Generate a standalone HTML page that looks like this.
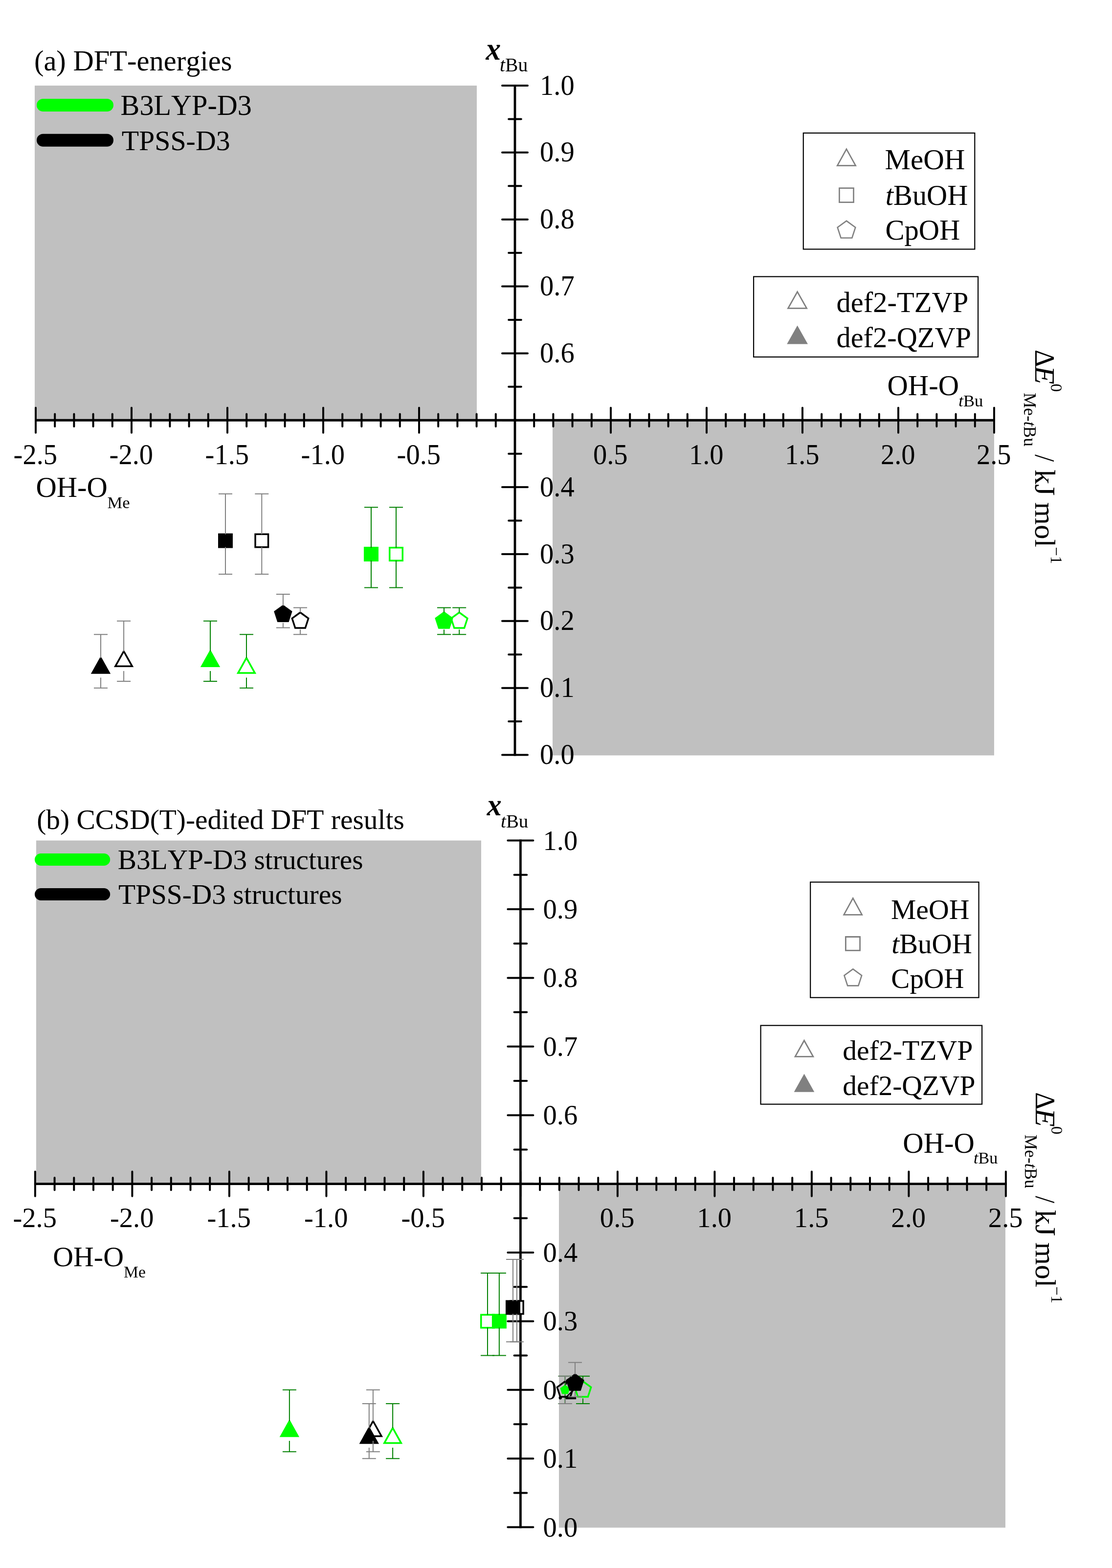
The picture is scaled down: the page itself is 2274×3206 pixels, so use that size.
<!DOCTYPE html><html><head><meta charset="utf-8"><title>x_tBu vs Delta E plot</title>
<style>html,body{margin:0;padding:0;background:#fff;overflow:hidden}svg{display:block}text{font-family:'Liberation Serif', 'Times New Roman', serif;font-kerning:none;fill:#000}</style></head><body>
<svg width="2274" height="3206" viewBox="0 0 2274 3206">
<rect width="2274" height="3206" fill="#fff"/>
<rect x="71" y="175" width="904" height="684.2" fill="#C0C0C0"/>
<rect x="1130" y="859.2" width="903" height="685.3" fill="#C0C0C0"/>
<g stroke="#000" stroke-linecap="butt" fill="none">
<path d="M71 859.25H2035" stroke-width="4.8"/>
<path d="M1053 173V1545.5" stroke-width="4.8"/>
<path d="M73 833.85V884.65M112.2 846.55V871.95M151.4 846.55V871.95M190.6 846.55V871.95M229.8 846.55V871.95M269 833.85V884.65M308.2 846.55V871.95M347.4 846.55V871.95M386.6 846.55V871.95M425.8 846.55V871.95M465 833.85V884.65M504.2 846.55V871.95M543.4 846.55V871.95M582.6 846.55V871.95M621.8 846.55V871.95M661 833.85V884.65M700.2 846.55V871.95M739.4 846.55V871.95M778.6 846.55V871.95M817.8 846.55V871.95M857 833.85V884.65M896.2 846.55V871.95M935.4 846.55V871.95M974.6 846.55V871.95M1013.8 846.55V871.95M1053 833.85V884.65M1092.2 846.55V871.95M1131.4 846.55V871.95M1170.6 846.55V871.95M1209.8 846.55V871.95M1249 833.85V884.65M1288.2 846.55V871.95M1327.4 846.55V871.95M1366.6 846.55V871.95M1405.8 846.55V871.95M1445 833.85V884.65M1484.2 846.55V871.95M1523.4 846.55V871.95M1562.6 846.55V871.95M1601.8 846.55V871.95M1641 833.85V884.65M1680.2 846.55V871.95M1719.4 846.55V871.95M1758.6 846.55V871.95M1797.8 846.55V871.95M1837 833.85V884.65M1876.2 846.55V871.95M1915.4 846.55V871.95M1954.6 846.55V871.95M1993.8 846.55V871.95M2033 833.85V884.65" stroke-width="4.0" stroke-linecap="round"/>
<path d="M1027 1543.5H1079M1040.2 1475.08H1065.8M1027 1406.65H1079M1040.2 1338.22H1065.8M1027 1269.8H1079M1040.2 1201.38H1065.8M1027 1132.95H1079M1040.2 1064.53H1065.8M1027 996.1H1079M1040.2 927.67H1065.8M1027 859.25H1079M1040.2 790.82H1065.8M1027 722.4H1079M1040.2 653.98H1065.8M1027 585.55H1079M1040.2 517.12H1065.8M1027 448.7H1079M1040.2 380.28H1065.8M1027 311.85H1079M1040.2 243.42H1065.8M1027 175H1079" stroke-width="4.0" stroke-linecap="round"/>
</g>
<g font-size="58">
<text transform="translate(72.3 949) scale(0.975 1.035)" text-anchor="middle">-2.5</text>
<text transform="translate(268.3 949) scale(0.975 1.035)" text-anchor="middle">-2.0</text>
<text transform="translate(464.3 949) scale(0.975 1.035)" text-anchor="middle">-1.5</text>
<text transform="translate(660.3 949) scale(0.975 1.035)" text-anchor="middle">-1.0</text>
<text transform="translate(856.3 949) scale(0.975 1.035)" text-anchor="middle">-0.5</text>
<text transform="translate(1248.3 949) scale(0.975 1.035)" text-anchor="middle">0.5</text>
<text transform="translate(1444.3 949) scale(0.975 1.035)" text-anchor="middle">1.0</text>
<text transform="translate(1640.3 949) scale(0.975 1.035)" text-anchor="middle">1.5</text>
<text transform="translate(1836.3 949) scale(0.975 1.035)" text-anchor="middle">2.0</text>
<text transform="translate(2032.3 949) scale(0.975 1.035)" text-anchor="middle">2.5</text>
<text transform="translate(1104 193.6) scale(0.975 1.035)">1.0</text>
<text transform="translate(1104 330.45) scale(0.975 1.035)">0.9</text>
<text transform="translate(1104 467.3) scale(0.975 1.035)">0.8</text>
<text transform="translate(1104 604.15) scale(0.975 1.035)">0.7</text>
<text transform="translate(1104 741) scale(0.975 1.035)">0.6</text>
<text transform="translate(1104 1014.7) scale(0.975 1.035)">0.4</text>
<text transform="translate(1104 1151.55) scale(0.975 1.035)">0.3</text>
<text transform="translate(1104 1288.4) scale(0.975 1.035)">0.2</text>
<text transform="translate(1104 1425.25) scale(0.975 1.035)">0.1</text>
<text transform="translate(1104 1562.1) scale(0.975 1.035)">0.0</text>
</g>
<polygon points="504,1345.19 521.22,1376.05 486.78,1376.05" fill="none" stroke="#00FF00" stroke-width="3.5" stroke-linejoin="miter" stroke-miterlimit="10"/>
<polygon points="430,1327.91 450.2,1364.11 409.8,1364.11" fill="#00FF00"/>
<polygon points="796.75,1119.7 823.25,1119.7 823.25,1146.2 796.75,1146.2" fill="none" stroke="#00FF00" stroke-width="3.5" stroke-linejoin="miter" stroke-miterlimit="10"/>
<polygon points="744,1117.95 774,1117.95 774,1147.95 744,1147.95" fill="#00FF00"/>
<polygon points="939.2,1252.26 955.88,1264.38 949.51,1283.99 928.89,1283.99 922.52,1264.38" fill="none" stroke="#00FF00" stroke-width="3.5" stroke-linejoin="miter" stroke-miterlimit="10"/>
<polygon points="908,1250.1 926.74,1263.71 919.58,1285.74 896.42,1285.74 889.26,1263.71" fill="#00FF00"/>
<path d="M504 1297.17V1345.6M504 1385.6V1406.65M490 1297.17H518M490 1406.65H518" stroke="#008000" stroke-width="2.0" fill="none"/>
<path d="M430 1269.8V1331.91M430 1371.91V1392.96M416 1269.8H444M416 1392.96H444" stroke="#008000" stroke-width="2.0" fill="none"/>
<path d="M810 1037.15V1119.95M810 1145.95V1201.38M796 1037.15H824M796 1201.38H824" stroke="#008000" stroke-width="2.0" fill="none"/>
<path d="M759 1037.15V1119.95M759 1145.95V1201.38M745 1037.15H773M745 1201.38H773" stroke="#008000" stroke-width="2.0" fill="none"/>
<path d="M939.2 1242.43V1252.3M939.2 1287.3V1297.17M925.2 1242.43H953.2M925.2 1297.17H953.2" stroke="#008000" stroke-width="2.0" fill="none"/>
<path d="M908 1242.43V1252.3M908 1287.3V1297.17M894 1242.43H922M894 1297.17H922" stroke="#008000" stroke-width="2.0" fill="none"/>
<polygon points="253.1,1331.5 270.32,1362.36 235.88,1362.36" fill="none" stroke="#000" stroke-width="3.5" stroke-linejoin="miter" stroke-miterlimit="10"/>
<polygon points="206,1341.6 226.2,1377.8 185.8,1377.8" fill="#000"/>
<polygon points="522.05,1092.33 548.55,1092.33 548.55,1118.83 522.05,1118.83" fill="none" stroke="#000" stroke-width="3.5" stroke-linejoin="miter" stroke-miterlimit="10"/>
<polygon points="446,1090.58 476,1090.58 476,1120.58 446,1120.58" fill="#000"/>
<polygon points="614,1252.26 630.68,1264.38 624.31,1283.99 603.69,1283.99 597.32,1264.38" fill="none" stroke="#000" stroke-width="3.5" stroke-linejoin="miter" stroke-miterlimit="10"/>
<polygon points="578.9,1236.41 597.64,1250.03 590.48,1272.05 567.32,1272.05 560.16,1250.03" fill="#000"/>
<path d="M253.1 1269.8V1331.91M253.1 1371.91V1392.96M239.1 1269.8H267.1M239.1 1392.96H267.1" stroke="#808080" stroke-width="2.0" fill="none"/>
<path d="M206 1297.17V1345.6M206 1385.6V1406.65M192 1297.17H220M192 1406.65H220" stroke="#808080" stroke-width="2.0" fill="none"/>
<path d="M535.3 1009.78V1092.58M535.3 1118.58V1174.01M521.3 1009.78H549.3M521.3 1174.01H549.3" stroke="#808080" stroke-width="2.0" fill="none"/>
<path d="M461 1009.78V1092.58M461 1118.58V1174.01M447 1009.78H475M447 1174.01H475" stroke="#808080" stroke-width="2.0" fill="none"/>
<path d="M614 1242.43V1252.3M614 1287.3V1297.17M600 1242.43H628M600 1297.17H628" stroke="#808080" stroke-width="2.0" fill="none"/>
<path d="M578.9 1215.06V1238.62M578.9 1273.62V1283.49M564.9 1215.06H592.9M564.9 1283.49H592.9" stroke="#808080" stroke-width="2.0" fill="none"/>
<rect x="74" y="1718.5" width="910" height="702.1" fill="#C0C0C0"/>
<rect x="1143" y="2420.6" width="913" height="702.9" fill="#C0C0C0"/>
<g stroke="#000" stroke-linecap="butt" fill="none">
<path d="M69.9 2420.6H2058.9" stroke-width="4.8"/>
<path d="M1064.4 1716.6V3124.6" stroke-width="4.8"/>
<path d="M71.9 2395.4V2445.8M111.6 2407.9V2433.3M151.3 2407.9V2433.3M191 2407.9V2433.3M230.7 2407.9V2433.3M270.4 2395.4V2445.8M310.1 2407.9V2433.3M349.8 2407.9V2433.3M389.5 2407.9V2433.3M429.2 2407.9V2433.3M468.9 2395.4V2445.8M508.6 2407.9V2433.3M548.3 2407.9V2433.3M588 2407.9V2433.3M627.7 2407.9V2433.3M667.4 2395.4V2445.8M707.1 2407.9V2433.3M746.8 2407.9V2433.3M786.5 2407.9V2433.3M826.2 2407.9V2433.3M865.9 2395.4V2445.8M905.6 2407.9V2433.3M945.3 2407.9V2433.3M985 2407.9V2433.3M1024.7 2407.9V2433.3M1064.4 2395.4V2445.8M1104.1 2407.9V2433.3M1143.8 2407.9V2433.3M1183.5 2407.9V2433.3M1223.2 2407.9V2433.3M1262.9 2395.4V2445.8M1302.6 2407.9V2433.3M1342.3 2407.9V2433.3M1382 2407.9V2433.3M1421.7 2407.9V2433.3M1461.4 2395.4V2445.8M1501.1 2407.9V2433.3M1540.8 2407.9V2433.3M1580.5 2407.9V2433.3M1620.2 2407.9V2433.3M1659.9 2395.4V2445.8M1699.6 2407.9V2433.3M1739.3 2407.9V2433.3M1779 2407.9V2433.3M1818.7 2407.9V2433.3M1858.4 2395.4V2445.8M1898.1 2407.9V2433.3M1937.8 2407.9V2433.3M1977.5 2407.9V2433.3M2017.2 2407.9V2433.3M2056.9 2395.4V2445.8" stroke-width="4.0" stroke-linecap="round"/>
<path d="M1038.4 3122.6H1090.4M1051.6 3052.4H1077.2M1038.4 2982.2H1090.4M1051.6 2912H1077.2M1038.4 2841.8H1090.4M1051.6 2771.6H1077.2M1038.4 2701.4H1090.4M1051.6 2631.2H1077.2M1038.4 2561H1090.4M1051.6 2490.8H1077.2M1038.4 2420.6H1090.4M1051.6 2350.4H1077.2M1038.4 2280.2H1090.4M1051.6 2210H1077.2M1038.4 2139.8H1090.4M1051.6 2069.6H1077.2M1038.4 1999.4H1090.4M1051.6 1929.2H1077.2M1038.4 1859H1090.4M1051.6 1788.8H1077.2M1038.4 1718.6H1090.4" stroke-width="4.0" stroke-linecap="round"/>
</g>
<g font-size="58">
<text transform="translate(71.2 2508.5) scale(0.975 1.0)" text-anchor="middle">-2.5</text>
<text transform="translate(269.7 2508.5) scale(0.975 1.0)" text-anchor="middle">-2.0</text>
<text transform="translate(468.2 2508.5) scale(0.975 1.0)" text-anchor="middle">-1.5</text>
<text transform="translate(666.7 2508.5) scale(0.975 1.0)" text-anchor="middle">-1.0</text>
<text transform="translate(865.2 2508.5) scale(0.975 1.0)" text-anchor="middle">-0.5</text>
<text transform="translate(1262.2 2508.5) scale(0.975 1.0)" text-anchor="middle">0.5</text>
<text transform="translate(1460.7 2508.5) scale(0.975 1.0)" text-anchor="middle">1.0</text>
<text transform="translate(1659.2 2508.5) scale(0.975 1.0)" text-anchor="middle">1.5</text>
<text transform="translate(1857.7 2508.5) scale(0.975 1.0)" text-anchor="middle">2.0</text>
<text transform="translate(2056.2 2508.5) scale(0.975 1.0)" text-anchor="middle">2.5</text>
<text transform="translate(1110.5 1737.6) scale(0.975 1.0)">1.0</text>
<text transform="translate(1110.5 1878) scale(0.975 1.0)">0.9</text>
<text transform="translate(1110.5 2018.4) scale(0.975 1.0)">0.8</text>
<text transform="translate(1110.5 2158.8) scale(0.975 1.0)">0.7</text>
<text transform="translate(1110.5 2299.2) scale(0.975 1.0)">0.6</text>
<text transform="translate(1110.5 2580) scale(0.975 1.0)">0.4</text>
<text transform="translate(1110.5 2720.4) scale(0.975 1.0)">0.3</text>
<text transform="translate(1110.5 2860.8) scale(0.975 1.0)">0.2</text>
<text transform="translate(1110.5 3001.2) scale(0.975 1.0)">0.1</text>
<text transform="translate(1110.5 3141.6) scale(0.975 1.0)">0.0</text>
</g>
<polygon points="803.1,2919.67 820.32,2950.53 785.88,2950.53" fill="none" stroke="#00FF00" stroke-width="3.5" stroke-linejoin="miter" stroke-miterlimit="10"/>
<polygon points="591.9,2902.04 612.1,2938.24 571.7,2938.24" fill="#00FF00"/>
<polygon points="983.75,2688.15 1010.25,2688.15 1010.25,2714.65 983.75,2714.65" fill="none" stroke="#00FF00" stroke-width="3.5" stroke-linejoin="miter" stroke-miterlimit="10"/>
<polygon points="1005.9,2686.4 1035.9,2686.4 1035.9,2716.4 1005.9,2716.4" fill="#00FF00"/>
<polygon points="1192,2824.26 1208.68,2836.38 1202.31,2855.99 1181.69,2855.99 1175.32,2836.38" fill="none" stroke="#00FF00" stroke-width="3.5" stroke-linejoin="miter" stroke-miterlimit="10"/>
<polygon points="1155.5,2831.3 1165.49,2838.56 1161.67,2850.29 1149.33,2850.29 1145.51,2838.56" fill="#00FF00"/>
<path d="M803.1 2869.88V2920.08M803.1 2960.08V2982.2M789.1 2869.88H817.1M789.1 2982.2H817.1" stroke="#008000" stroke-width="2.0" fill="none"/>
<path d="M591.9 2841.8V2906.04M591.9 2946.04V2968.16M577.9 2841.8H605.9M577.9 2968.16H605.9" stroke="#008000" stroke-width="2.0" fill="none"/>
<path d="M997 2603.12V2688.4M997 2714.4V2771.6M983 2603.12H1011M983 2771.6H1011" stroke="#008000" stroke-width="2.0" fill="none"/>
<path d="M1020.9 2603.12V2688.4M1020.9 2714.4V2771.6M1006.9 2603.12H1034.9M1006.9 2771.6H1034.9" stroke="#008000" stroke-width="2.0" fill="none"/>
<path d="M1192 2813.72V2824.3M1192 2859.3V2869.88M1178 2813.72H1206M1178 2869.88H1206" stroke="#008000" stroke-width="2.0" fill="none"/>
<path d="M1155.5 2813.72V2833.1M1155.5 2850.5V2869.88M1141.5 2813.72H1169.5M1141.5 2869.88H1169.5" stroke="#008000" stroke-width="2.0" fill="none"/>
<polygon points="762.9,2905.63 780.12,2936.49 745.68,2936.49" fill="none" stroke="#000" stroke-width="3.5" stroke-linejoin="miter" stroke-miterlimit="10"/>
<polygon points="754.8,2916.08 775,2952.28 734.6,2952.28" fill="#000"/>
<polygon points="1043.65,2660.07 1070.15,2660.07 1070.15,2686.57 1043.65,2686.57" fill="#fff" stroke="#000" stroke-width="3.5" stroke-linejoin="miter" stroke-miterlimit="10"/>
<polygon points="1034,2658.32 1064,2658.32 1064,2688.32 1034,2688.32" fill="#000"/>
<polygon points="1156,2824.26 1172.68,2836.38 1166.31,2855.99 1145.69,2855.99 1139.32,2836.38" fill="none" stroke="#000" stroke-width="3.5" stroke-linejoin="miter" stroke-miterlimit="10"/>
<polygon points="1176,2808.06 1194.74,2821.67 1187.58,2843.7 1164.42,2843.7 1157.26,2821.67" fill="#000"/>
<path d="M762.9 2841.8V2906.04M762.9 2946.04V2968.16M748.9 2841.8H776.9M748.9 2968.16H776.9" stroke="#808080" stroke-width="2.0" fill="none"/>
<path d="M754.8 2869.88V2920.08M754.8 2960.08V2982.2M740.8 2869.88H768.8M740.8 2982.2H768.8" stroke="#808080" stroke-width="2.0" fill="none"/>
<path d="M1056.9 2575.04V2660.32M1056.9 2686.32V2743.52M1042.9 2575.04H1070.9M1042.9 2743.52H1070.9" stroke="#808080" stroke-width="2.0" fill="none"/>
<path d="M1049 2575.04V2660.32M1049 2686.32V2743.52M1035 2575.04H1063M1035 2743.52H1063" stroke="#808080" stroke-width="2.0" fill="none"/>
<path d="M1156 2813.72V2824.3M1156 2859.3V2869.88M1142 2813.72H1170M1142 2869.88H1170" stroke="#808080" stroke-width="2.0" fill="none"/>
<path d="M1176 2785.64V2810.26M1176 2845.26V2855.84M1162 2785.64H1190M1162 2855.84H1190" stroke="#808080" stroke-width="2.0" fill="none"/>
<text x="69.9" y="144.2" font-size="58.53">(a) DFT-energies</text>
<line x1="88" y1="215" x2="219" y2="215" stroke="#00FF00" stroke-width="26" stroke-linecap="round"/>
<line x1="88" y1="286.7" x2="219" y2="286.7" stroke="#000" stroke-width="26" stroke-linecap="round"/>
<text x="246.61" y="235" font-size="58.19">B3LYP-D3</text>
<text x="248.71" y="306.6" font-size="57.88">TPSS-D3</text>
<text transform="translate(993.39 121.7) scale(1 1.06)" font-size="61.32" font-weight="bold" font-style="italic">x</text>
<text x="1022.05" y="145.8" font-size="39.59"><tspan font-style="italic">t</tspan>Bu</text>
<text x="73.41" y="1016.2" font-size="58.63">OH-O</text>
<text x="219.4" y="1039" font-size="34.58">Me</text>
<text x="1814.51" y="808.1" font-size="58.67">OH-O</text>
<text x="1960.37" y="830.7" font-size="34.51"><tspan font-style="italic">t</tspan>Bu</text>
<rect x="1642.8" y="272" width="350.5" height="237.5" fill="none" stroke="#000" stroke-width="2.2"/>
<polygon points="1731,304.79 1749.71,338.65 1712.29,338.65" fill="none" stroke="#808080" stroke-width="2.7" stroke-linejoin="miter" stroke-miterlimit="10"/>
<polygon points="1716.45,384.55 1745.55,384.55 1745.55,413.65 1716.45,413.65" fill="none" stroke="#808080" stroke-width="2.7" stroke-linejoin="miter" stroke-miterlimit="10"/>
<polygon points="1731,451.61 1749.35,464.94 1742.34,486.51 1719.66,486.51 1712.65,464.94" fill="none" stroke="#808080" stroke-width="2.6" stroke-linejoin="miter" stroke-miterlimit="10"/>
<text x="1809.38" y="346" font-size="59.08">MeOH</text>
<text x="1810.81" y="418.7" font-size="58.35"><tspan font-style="italic">t</tspan>BuOH</text>
<text x="1810.4" y="490" font-size="58.6">CpOH</text>
<rect x="1541.1" y="565.6" width="459" height="164.3" fill="none" stroke="#000" stroke-width="2.2"/>
<polygon points="1630.6,596.65 1649.6,630.4 1611.6,630.4" fill="none" stroke="#808080" stroke-width="2.8" stroke-linejoin="miter" stroke-miterlimit="10"/>
<polygon points="1630.6,665.4 1652,703.6 1609.2,703.6" fill="#808080"/>
<text x="1710.5" y="638.4" font-size="58.5">def2-TZVP</text>
<text x="1710.51" y="709.5" font-size="58.37">def2-QZVP</text>
<g transform="translate(2117 716) rotate(90)">
<text transform="translate(-1.05 0) scale(0.95 1)" font-size="58">&#916;</text>
<text transform="translate(31.7 0) scale(1.07 1)" font-size="58" font-style="italic">E</text>
<text transform="translate(68.51 -31.7) scale(0.99 1)" font-size="34">0</text>
<text transform="translate(86.89 23) scale(1.01 1)" font-size="35">Me-<tspan font-style="italic">t</tspan>Bu</text>
<text transform="translate(213.3 0) scale(0.92 1)" font-size="58">/</text>
<text transform="translate(243.97 0) scale(1.03 1)" font-size="58.5">kJ</text>
<text transform="translate(310.99 0) scale(1.01 1)" font-size="58.5">mol</text>
<text transform="translate(402.05 -31.7) scale(0.97 1)" font-size="34">&#8722;1</text>
</g>
<text x="75.2" y="1695.2" font-size="57.46">(b) CCSD(T)-edited DFT results</text>
<line x1="83.5" y1="1757.5" x2="212.7" y2="1757.5" stroke="#00FF00" stroke-width="25" stroke-linecap="round"/>
<line x1="83.5" y1="1828.5" x2="212.7" y2="1828.5" stroke="#000" stroke-width="25" stroke-linecap="round"/>
<text x="240.7" y="1776.7" font-size="57.37">B3LYP-D3 structures</text>
<text x="241.9" y="1848" font-size="57.42">TPSS-D3 structures</text>
<text transform="translate(995.68 1667.1) scale(1 1.04)" font-size="60.06" font-weight="bold" font-style="italic">x</text>
<text x="1024.08" y="1691.7" font-size="38.94"><tspan font-style="italic">t</tspan>Bu</text>
<text x="108.33" y="2588.9" font-size="57.85">OH-O</text>
<text x="253.01" y="2611.6" font-size="33.68">Me</text>
<text x="1846.3" y="2356.7" font-size="58.64">OH-O</text>
<text x="1991" y="2378.9" font-size="34.07"><tspan font-style="italic">t</tspan>Bu</text>
<rect x="1657.2" y="1803.6" width="344.4" height="236.1" fill="none" stroke="#000" stroke-width="2.2"/>
<polygon points="1744.2,1836.51 1762.72,1870.35 1725.68,1870.35" fill="none" stroke="#808080" stroke-width="2.7" stroke-linejoin="miter" stroke-miterlimit="10"/>
<polygon points="1729.4,1915.5 1758.6,1915.5 1758.6,1943.3 1729.4,1943.3" fill="none" stroke="#808080" stroke-width="2.8" stroke-linejoin="miter" stroke-miterlimit="10"/>
<polygon points="1744.3,1981.41 1762.17,1994.39 1755.35,2015.4 1733.25,2015.4 1726.43,1994.39" fill="none" stroke="#808080" stroke-width="2.6" stroke-linejoin="miter" stroke-miterlimit="10"/>
<text x="1821.9" y="1878.5" font-size="57.8">MeOH</text>
<text x="1823.24" y="1949.3" font-size="56.98"><tspan font-style="italic">t</tspan>BuOH</text>
<text x="1822.33" y="2019.5" font-size="57.13">CpOH</text>
<rect x="1555.6" y="2096.7" width="452.5" height="161" fill="none" stroke="#000" stroke-width="2.2"/>
<polygon points="1644.5,2127.47 1662.91,2160.4 1626.09,2160.4" fill="none" stroke="#808080" stroke-width="2.8" stroke-linejoin="miter" stroke-miterlimit="10"/>
<polygon points="1644.5,2195.4 1665.3,2232.8 1623.7,2232.8" fill="#808080"/>
<text x="1723.2" y="2167.3" font-size="57.73">def2-TZVP</text>
<text x="1723.22" y="2238.7" font-size="57.43">def2-QZVP</text>
<g transform="translate(2118 2234.2) rotate(90)">
<text transform="translate(-1.05 0) scale(0.95 1)" font-size="58">&#916;</text>
<text transform="translate(31.7 0) scale(1.07 1)" font-size="58" font-style="italic">E</text>
<text transform="translate(68.51 -32.3) scale(0.99 1)" font-size="34">0</text>
<text transform="translate(85.59 22) scale(1.01 1)" font-size="35">Me-<tspan font-style="italic">t</tspan>Bu</text>
<text transform="translate(211.1 0) scale(0.92 1)" font-size="58">/</text>
<text transform="translate(239.47 0) scale(1.03 1)" font-size="58.5">kJ</text>
<text transform="translate(305.99 0) scale(1.01 1)" font-size="58.5">mol</text>
<text transform="translate(395.75 -32.3) scale(0.97 1)" font-size="34">&#8722;1</text>
</g>
</svg></body></html>
